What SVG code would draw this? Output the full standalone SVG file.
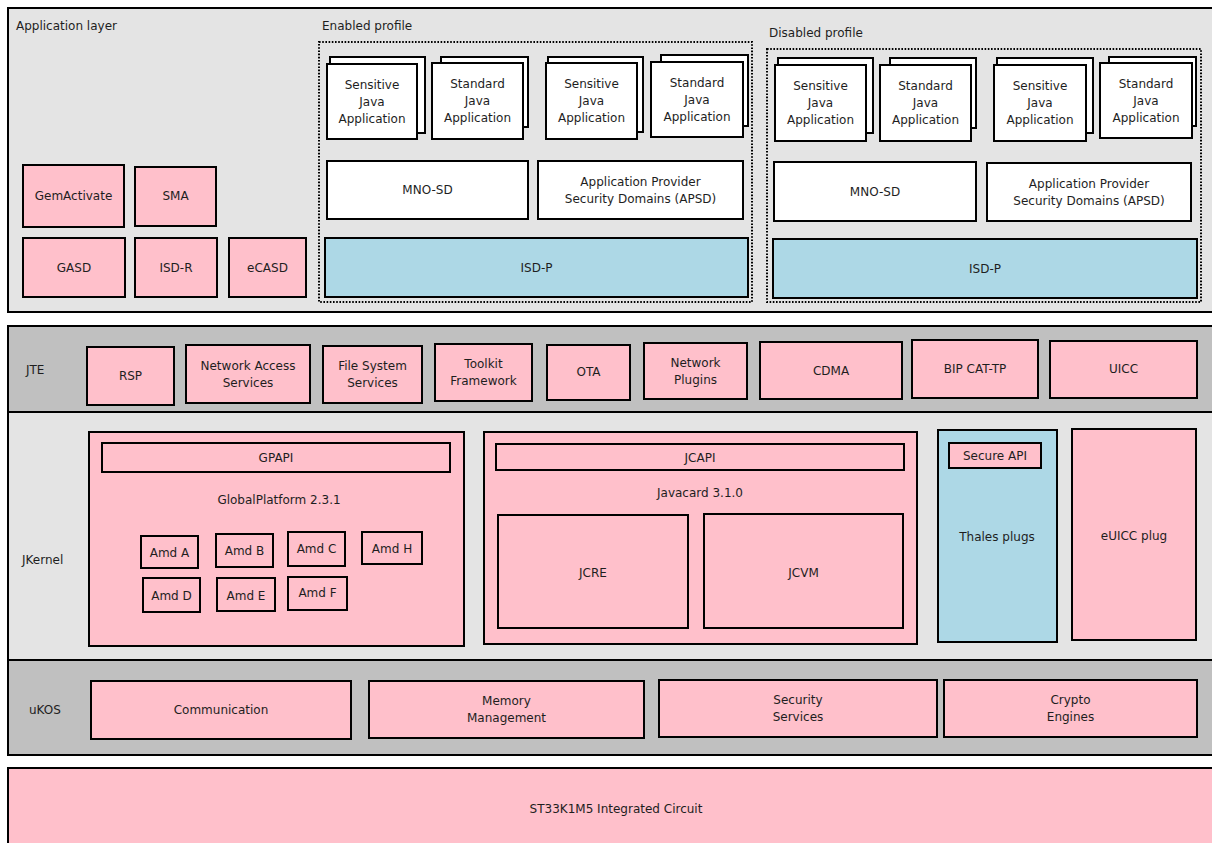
<svg xmlns="http://www.w3.org/2000/svg" width="1212" height="843" viewBox="0 0 1212 843">
  <style>
    text { font-family: "DejaVu Sans", Verdana, sans-serif; font-size: 12px; fill: #1e1e1e; }
    .c { text-anchor: middle; dominant-baseline: central; }
    .lbl { dominant-baseline: central; }
    .layer-light { fill: #e4e4e4; stroke: #000; stroke-width: 2; }
    .layer-dark { fill: #c0c0c0; stroke: #000; stroke-width: 2; }
    .pink { fill: #ffc0cb; stroke: #000; stroke-width: 2; }
    .blue { fill: #add8e6; stroke: #000; stroke-width: 2; }
    .white { fill: #ffffff; stroke: #000; stroke-width: 2; }
    .profile { fill: none; stroke: #000; stroke-width: 2; stroke-dasharray: 1.6 1.6; }
  </style>

  <rect x="0" y="0" width="1212" height="843" fill="#ffffff"/>

  <!-- Application layer -->
  <g id="application-layer">
    <rect class="layer-light" x="8" y="8" width="1214" height="304"/>
    <text class="lbl" x="16" y="26">Application layer</text>
  </g>

  <g id="gemactivate"><rect class="pink" x="23" y="165" width="101" height="62"/><text class="c" x="73.5" y="196">GemActivate</text></g>
  <g id="sma"><rect class="pink" x="135" y="167" width="81" height="59"/><text class="c" x="175.5" y="196">SMA</text></g>
  <g id="gasd"><rect class="pink" x="23" y="238" width="102" height="59"/><text class="c" x="74" y="268">GASD</text></g>
  <g id="isd-r"><rect class="pink" x="135" y="238" width="82" height="59"/><text class="c" x="176" y="268">ISD-R</text></g>
  <g id="ecasd"><rect class="pink" x="229" y="238" width="77" height="59"/><text class="c" x="267.5" y="268">eCASD</text></g>

  <!-- Enabled profile -->
  <g id="enabled-profile">
    <text class="lbl" x="322" y="26">Enabled profile</text>
    <rect class="profile" x="319" y="42" width="433" height="260"/>
  </g>
  <g id="en-sensitive-1">
    <rect class="white" x="330" y="57" width="95" height="76"/>
    <rect class="white" x="327" y="64" width="90" height="75"/>
    <text class="c" x="372" y="85">Sensitive</text><text class="c" x="372" y="102">Java</text><text class="c" x="372" y="119">Application</text>
  </g>
  <g id="en-standard-1">
    <rect class="white" x="441" y="57" width="87" height="70"/>
    <rect class="white" x="432" y="63" width="91" height="76"/>
    <text class="c" x="477.5" y="84">Standard</text><text class="c" x="477.5" y="101">Java</text><text class="c" x="477.5" y="118">Application</text>
  </g>
  <g id="en-sensitive-2">
    <rect class="white" x="548" y="57" width="95" height="75"/>
    <rect class="white" x="546" y="63" width="91" height="76"/>
    <text class="c" x="591.5" y="84">Sensitive</text><text class="c" x="591.5" y="101">Java</text><text class="c" x="591.5" y="118">Application</text>
  </g>
  <g id="en-standard-2">
    <rect class="white" x="661" y="55" width="87" height="71"/>
    <rect class="white" x="651" y="62" width="92" height="75"/>
    <text class="c" x="697" y="83">Standard</text><text class="c" x="697" y="100">Java</text><text class="c" x="697" y="117">Application</text>
  </g>
  <g id="en-mno-sd"><rect class="white" x="327" y="161" width="201" height="58"/><text class="c" x="427.5" y="190">MNO-SD</text></g>
  <g id="en-apsd"><rect class="white" x="538" y="161" width="205" height="58"/><text class="c" x="640.5" y="182">Application Provider</text><text class="c" x="640.5" y="199">Security Domains (APSD)</text></g>
  <g id="en-isd-p"><rect class="blue" x="325" y="238" width="423" height="59"/><text class="c" x="536.5" y="268">ISD-P</text></g>

  <!-- Disabled profile -->
  <g id="disabled-profile">
    <text class="lbl" x="769" y="33">Disabled profile</text>
    <rect class="profile" x="767" y="49" width="434" height="253"/>
  </g>
  <g id="dis-sensitive-1">
    <rect class="white" x="778" y="58" width="95" height="75"/>
    <rect class="white" x="775" y="65" width="91" height="76"/>
    <text class="c" x="820.5" y="86">Sensitive</text><text class="c" x="820.5" y="103">Java</text><text class="c" x="820.5" y="120">Application</text>
  </g>
  <g id="dis-standard-1">
    <rect class="white" x="890" y="58" width="86" height="70"/>
    <rect class="white" x="880" y="65" width="91" height="76"/>
    <text class="c" x="925.5" y="86">Standard</text><text class="c" x="925.5" y="103">Java</text><text class="c" x="925.5" y="120">Application</text>
  </g>
  <g id="dis-sensitive-2">
    <rect class="white" x="997" y="58" width="96" height="75"/>
    <rect class="white" x="994" y="65" width="92" height="76"/>
    <text class="c" x="1040" y="86">Sensitive</text><text class="c" x="1040" y="103">Java</text><text class="c" x="1040" y="120">Application</text>
  </g>
  <g id="dis-standard-2">
    <rect class="white" x="1109" y="57" width="87" height="69"/>
    <rect class="white" x="1100" y="63" width="92" height="75"/>
    <text class="c" x="1146" y="84">Standard</text><text class="c" x="1146" y="101">Java</text><text class="c" x="1146" y="118">Application</text>
  </g>
  <g id="dis-mno-sd"><rect class="white" x="774" y="162" width="202" height="59"/><text class="c" x="875" y="192">MNO-SD</text></g>
  <g id="dis-apsd"><rect class="white" x="987" y="163" width="204" height="58"/><text class="c" x="1089" y="184">Application Provider</text><text class="c" x="1089" y="201">Security Domains (APSD)</text></g>
  <g id="dis-isd-p"><rect class="blue" x="773" y="239" width="424" height="59"/><text class="c" x="985" y="269">ISD-P</text></g>

  <!-- JTE layer -->
  <g id="jte-layer">
    <rect class="layer-dark" x="8" y="326" width="1214" height="86"/>
    <text class="lbl" x="26" y="370">JTE</text>
  </g>
  <g id="rsp"><rect class="pink" x="87" y="347" width="87" height="58"/><text class="c" x="130.5" y="376">RSP</text></g>
  <g id="network-access"><rect class="pink" x="186" y="345" width="124" height="58"/><text class="c" x="248" y="366">Network Access</text><text class="c" x="248" y="383">Services</text></g>
  <g id="file-system"><rect class="pink" x="323" y="346" width="99" height="57"/><text class="c" x="372.5" y="366">File System</text><text class="c" x="372.5" y="383">Services</text></g>
  <g id="toolkit"><rect class="pink" x="435" y="344" width="97" height="57"/><text class="c" x="483.5" y="364">Toolkit</text><text class="c" x="483.5" y="381">Framework</text></g>
  <g id="ota"><rect class="pink" x="547" y="345" width="83" height="55"/><text class="c" x="588.5" y="372">OTA</text></g>
  <g id="network-plugins"><rect class="pink" x="644" y="343" width="103" height="56"/><text class="c" x="695.5" y="363">Network</text><text class="c" x="695.5" y="380">Plugins</text></g>
  <g id="cdma"><rect class="pink" x="760" y="342" width="142" height="57"/><text class="c" x="831" y="371">CDMA</text></g>
  <g id="bip-cat-tp"><rect class="pink" x="912" y="340" width="126" height="58"/><text class="c" x="975" y="369">BIP CAT-TP</text></g>
  <g id="uicc"><rect class="pink" x="1050" y="341" width="147" height="57"/><text class="c" x="1123.5" y="369">UICC</text></g>

  <!-- JKernel layer -->
  <g id="jkernel-layer">
    <rect class="layer-light" x="8" y="412" width="1214" height="248"/>
    <text class="lbl" x="22" y="560">JKernel</text>
  </g>
  <g id="globalplatform">
    <rect class="pink" x="89" y="432" width="375" height="214"/>
    <text class="c" x="279" y="500">GlobalPlatform 2.3.1</text>
  </g>
  <g id="gpapi"><rect class="pink" x="102" y="443" width="348" height="29"/><text class="c" x="276" y="458">GPAPI</text></g>
  <g id="amd-a"><rect class="pink" x="141" y="536" width="57" height="32"/><text class="c" x="169.5" y="553">Amd A</text></g>
  <g id="amd-b"><rect class="pink" x="216" y="534" width="57" height="33"/><text class="c" x="244.5" y="551">Amd B</text></g>
  <g id="amd-c"><rect class="pink" x="288" y="532" width="57" height="34"/><text class="c" x="316.5" y="549">Amd C</text></g>
  <g id="amd-h"><rect class="pink" x="362" y="532" width="60" height="32"/><text class="c" x="392" y="549">Amd H</text></g>
  <g id="amd-d"><rect class="pink" x="143" y="578" width="57" height="34"/><text class="c" x="171.5" y="596">Amd D</text></g>
  <g id="amd-e"><rect class="pink" x="217" y="578" width="58" height="33"/><text class="c" x="246" y="596">Amd E</text></g>
  <g id="amd-f"><rect class="pink" x="288" y="577" width="59" height="33"/><text class="c" x="317.5" y="593">Amd F</text></g>

  <g id="javacard">
    <rect class="pink" x="484" y="432" width="433" height="212"/>
    <text class="c" x="700" y="493">Javacard 3.1.0</text>
  </g>
  <g id="jcapi"><rect class="pink" x="496" y="444" width="408" height="26"/><text class="c" x="700" y="458">JCAPI</text></g>
  <g id="jcre"><rect class="pink" x="498" y="515" width="190" height="113"/><text class="c" x="593" y="573">JCRE</text></g>
  <g id="jcvm"><rect class="pink" x="704" y="514" width="199" height="114"/><text class="c" x="803.5" y="573">JCVM</text></g>

  <g id="thales-plugs">
    <rect class="blue" x="938" y="430" width="119" height="212"/>
    <text class="c" x="997" y="537">Thales plugs</text>
  </g>
  <g id="secure-api"><rect class="pink" x="949" y="443" width="92" height="25"/><text class="c" x="995" y="455.5">Secure API</text></g>
  <g id="euicc-plug"><rect class="pink" x="1072" y="429" width="124" height="211"/><text class="c" x="1134" y="536">eUICC plug</text></g>

  <!-- uKOS layer -->
  <g id="ukos-layer">
    <rect class="layer-dark" x="8" y="660" width="1214" height="95"/>
    <text class="lbl" x="29" y="710">uKOS</text>
  </g>
  <g id="communication"><rect class="pink" x="91" y="681" width="260" height="58"/><text class="c" x="221" y="710">Communication</text></g>
  <g id="memory-management"><rect class="pink" x="369" y="681" width="275" height="57"/><text class="c" x="506.5" y="701">Memory</text><text class="c" x="506.5" y="718">Management</text></g>
  <g id="security-services"><rect class="pink" x="659" y="680" width="278" height="57"/><text class="c" x="798" y="700">Security</text><text class="c" x="798" y="717">Services</text></g>
  <g id="crypto-engines"><rect class="pink" x="944" y="680" width="253" height="57"/><text class="c" x="1070.5" y="700">Crypto</text><text class="c" x="1070.5" y="717">Engines</text></g>

  <!-- Hardware -->
  <g id="integrated-circuit">
    <rect class="pink" x="8" y="768" width="1214" height="90"/>
    <text class="c" x="616" y="809">ST33K1M5 Integrated Circuit</text>
  </g>
</svg>
